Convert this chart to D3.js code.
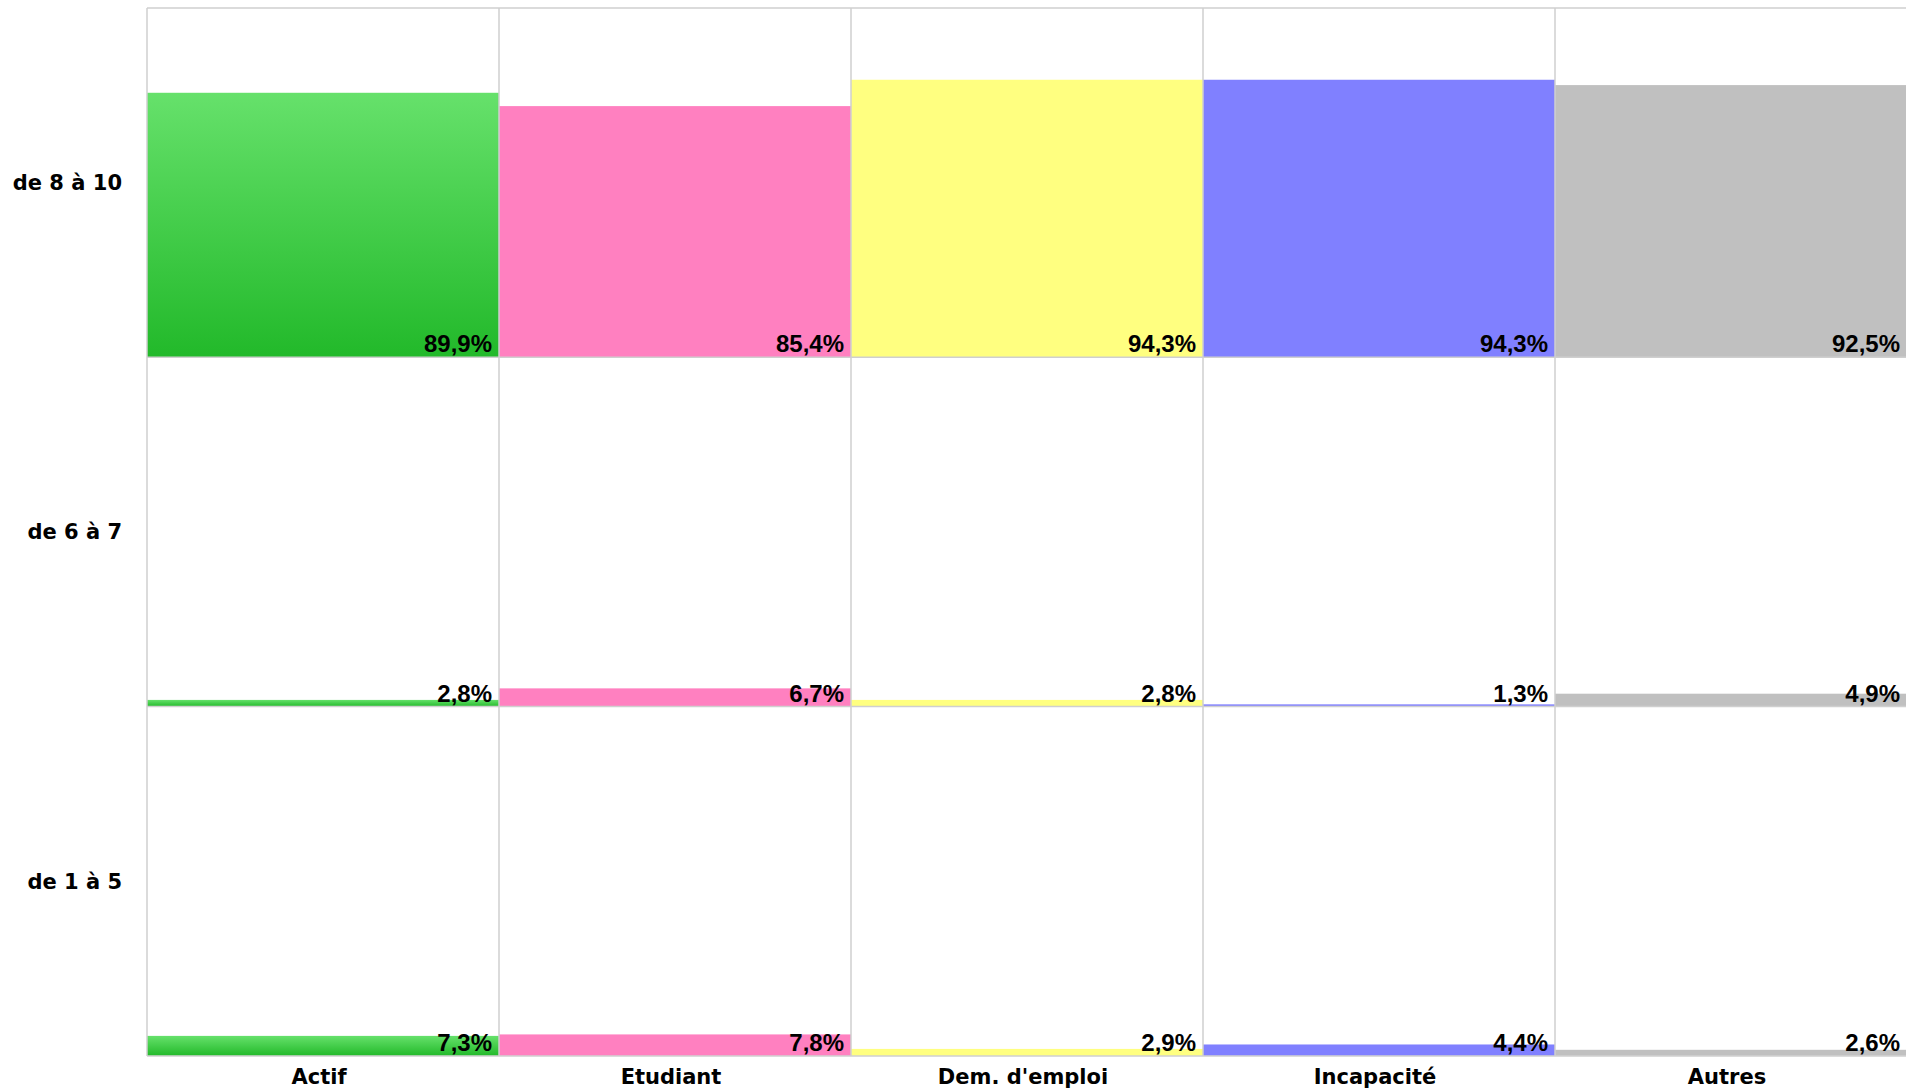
<!DOCTYPE html>
<html>
<head>
<meta charset="utf-8">
<script src="https://cdn.jsdelivr.net/npm/d3@7"></script>
<style>
  body { margin: 0; background: #fff; }
  svg { display: block; }
</style>
</head>
<body>
<div id="chart"></div>
<script>
// data
var categories = ["Actif", "Etudiant", "Dem. d'emploi", "Incapacité", "Autres"];
var rowLabels = ["de 8 à 10", "de 6 à 7", "de 1 à 5"];
var values8to10 = [89.9, 85.4, 94.3, 94.3, 92.5];
var values6to7 = [2.8, 6.7, 2.8, 1.3, 4.9];
var values1to5 = [7.3, 7.8, 2.9, 4.4, 2.6];
var rowValues = [values8to10, values6to7, values1to5];

var fills = ["url(#gradGreen)", "#ff80c0", "#ffff80", "#8080ff", "#c0c0c0"];

var svgWidth = 1906, svgHeight = 1091;
var margin = { top: 8, left: 147 };
var colWidth = 352, rowHeight = 349.3;
var barInset = 1.6; // bars stop a little short of the row line

var svg = d3.select("#chart").append("svg")
    .attr("width", svgWidth)
    .attr("height", svgHeight);

var defs = svg.append("defs");
var grad = defs.append("linearGradient")
    .attr("id", "gradGreen")
    .attr("x1", 0).attr("y1", 0).attr("x2", 0).attr("y2", 1);
grad.append("stop").attr("offset", "0%").attr("stop-color", "#66e16b");
grad.append("stop").attr("offset", "100%").attr("stop-color", "#22b92a");

var x = d3.scaleBand()
    .domain(categories)
    .range([margin.left, margin.left + colWidth * categories.length]);

var row = d3.scaleBand()
    .domain(rowLabels)
    .range([margin.top, margin.top + rowHeight * rowLabels.length]);

// value scale inside one row
var y = d3.scaleLinear()
    .domain([0, 118])
    .range([rowHeight, 0]);

var rowsG = svg.selectAll(".row")
    .data(rowLabels)
    .enter().append("g")
    .attr("class", "row")
    .attr("transform", function(d) { return "translate(0," + row(d) + ")"; });

rowsG.each(function(label, ri) {
    var g = d3.select(this);
    var vals = rowValues[ri];

    g.selectAll("rect.bar")
        .data(categories)
        .enter().append("rect")
        .attr("class", "bar")
        .attr("x", function(d) { return x(d); })
        .attr("width", x.bandwidth())
        .attr("y", function(d, i) { return y(vals[i]) + barInset; })
        .attr("height", function(d, i) { return Math.max(0, rowHeight - y(vals[i]) - barInset); })
        .attr("fill", function(d, i) { return fills[i]; });

    g.selectAll("text.val")
        .data(categories)
        .enter().append("text")
        .attr("class", "val")
        .attr("x", function(d) { return x(d) + x.bandwidth() - 7; })
        .attr("y", rowHeight - 5)
        .attr("text-anchor", "end")
        .style("font-family", "'Liberation Sans', Arial, sans-serif")
        .style("font-weight", "bold")
        .style("font-size", "24px")
        .text(function(d, i) { return String(vals[i].toFixed(1)).replace(".", ",") + "%"; });
});

// grid lines
var grid = svg.append("g").attr("class", "grid")
    .attr("stroke", "#cfcfcf")
    .attr("stroke-width", 1.5);

var bottom = margin.top + rowHeight * rowLabels.length;
var right = margin.left + colWidth * categories.length;

categories.forEach(function(c) {
    grid.append("line")
        .attr("x1", x(c)).attr("x2", x(c))
        .attr("y1", margin.top).attr("y2", bottom);
});
rowLabels.forEach(function(r) {
    grid.append("line")
        .attr("x1", margin.left).attr("x2", right)
        .attr("y1", row(r)).attr("y2", row(r));
});
grid.append("line")
    .attr("x1", margin.left).attr("x2", right)
    .attr("y1", bottom).attr("y2", bottom);

// row labels
svg.selectAll(".rowLabel")
    .data(rowLabels)
    .enter().append("text")
    .attr("class", "rowLabel")
    .attr("x", margin.left - 25)
    .attr("y", function(d) { return row(d) + row.bandwidth() / 2; })
    .attr("dy", "0.35em")
    .attr("text-anchor", "end")
    .style("font-family", "'DejaVu Sans', Verdana, sans-serif")
    .style("font-weight", "bold")
    .style("font-size", "21px")
    .text(function(d) { return d; });

// column labels
svg.selectAll(".colLabel")
    .data(categories)
    .enter().append("text")
    .attr("class", "colLabel")
    .attr("x", function(d) { return x(d) + x.bandwidth() / 2 - 4; })
    .attr("y", bottom + 28.5)
    .attr("text-anchor", "middle")
    .style("font-family", "'DejaVu Sans', Verdana, sans-serif")
    .style("font-weight", "bold")
    .style("font-size", "21px")
    .text(function(d) { return d; });
</script>
</body>
</html>
